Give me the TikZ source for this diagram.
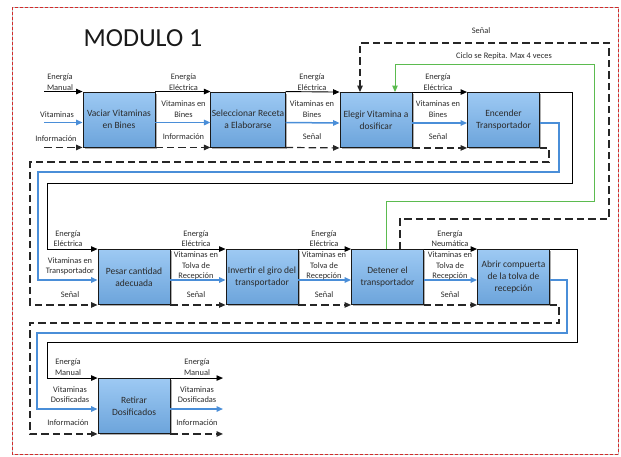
\documentclass[tikz,border=0pt]{standalone}
\usepackage{fontspec}
\setmainfont{Carlito}
\usetikzlibrary{arrows.meta,shadows,calc}
\definecolor{boxtop}{HTML}{9DC9F3}
\definecolor{boxbot}{HTML}{6CA4DB}
\definecolor{vitblue}{HTML}{4A8ED8}
\definecolor{loopgreen}{HTML}{5BBB4F}
\definecolor{txt}{HTML}{2B2B2B}
\definecolor{frame}{HTML}{D42A2A}
\begin{document}
\begin{tikzpicture}[x=1pt,y=-1pt,
  proc/.style={draw=black!90, line width=0.9pt, top color=boxtop, bottom color=boxbot,
    minimum width=72pt, minimum height=55pt, inner sep=1pt,
    align=center, text=txt, font=\fontsize{9.5}{11.8}\selectfont,
    drop shadow={shadow xshift=1.6pt, shadow yshift=-1.6pt, fill=black!45, opacity=0.7}},
  lbl/.style={inner sep=0pt, align=center, text=txt, font=\fontsize{8.4}{10.5}\selectfont},
  ene/.style={draw=black, line width=0.9pt, -{Triangle[length=6.5pt,width=5.5pt]}},
  vit/.style={draw=vitblue, line width=1.5pt, -{Triangle[length=6.5pt,width=5.5pt]}},
  sig/.style={draw=black!85, line width=1.2pt, dash pattern=on 7.5pt off 4pt, -{Triangle[length=6.5pt,width=5.5pt]}},
  cyc/.style={draw=loopgreen, line width=1pt, -{Triangle[length=6.5pt,width=5.5pt]}}
]
\useasboundingbox (0,0) rectangle (621,456);

% outer frame
\draw[black!25, line width=0.8pt] (12,7) rectangle (618,454);
\draw[frame, line width=0.9pt, dash pattern=on 3pt off 2pt] (12,7) rectangle (618,454);

% title
\node[anchor=base, inner sep=0pt, font=\fontsize{26}{30}\selectfont, text=black!90] (title) at (143,46) {MODULO 1};

% process boxes
\node[proc] (b1) at (119,119.5) {Vaciar Vitaminas\\en Bines};
\node[proc] (b2) at (248,119.5) {Seleccionar Receta\\a Elaborarse};
\node[proc] (b3) at (376,120) {Elegir Vitamina a\\dosificar};
\node[proc] (b4) at (503.5,120) {Encender\\Transportador};
\node[proc] (b5) at (134,277) {Pesar cantidad\\adecuada};
\node[proc] (b6) at (262,277) {Invertir el giro del\\transportador};
\node[proc] (b7) at (387.5,277) {Detener el\\transportador};
\node[proc] (b8) at (513.5,277) {Abrir compuerta\\de la tolva de\\recepción};
\node[proc] (b9) at (134,406) {Retirar\\Dosificados};

% material ports, a little below the middle of each box side
\foreach \b in {b1,b2,b3,b4,b5,b6,b7,b8,b9}{
  \coordinate (\b w) at ($(\b.west)+(0,3)$);
  \coordinate (\b e) at ($(\b.east)+(0,3)$);
}

% row 1 inputs
\coordinate (i1) at (44,0);
\draw[ene] (i1 |- b1.north west) -- (b1.north west);
\draw[vit] (i1 |- b1w) -- (b1w);
\draw[sig] (i1 |- b1.south west) -- (b1.south west);

% row 1 links
\draw[ene] (b1.north east) -- (b2.north west);
\draw[vit] (b1e) -- (b2w);
\draw[sig] (b1.south east) -- (b2.south west);
\draw[ene] (b2.north east) -- (b3.north west);
\draw[vit] (b2e) -- (b3w);
\draw[sig] (b2.south east) -- (b3.south west);
\draw[ene] (b3.north east) -- (b4.north west);
\draw[vit] (b3e) -- (b4w);
\draw[sig] (b3.south east) -- (b4.south west);

% row 1 to row 2
\coordinate (k1) at (572,183);
\coordinate (k2) at (47,183);
\coordinate (c1) at (559,172);
\coordinate (c2) at (38,172);
\coordinate (d1) at (549,162);
\coordinate (d2) at (30,162);
\draw[ene] (b4.north east) -| (k1) -- (k2) |- (b5.north west);
\draw[vit] (b4e) -| (c1) -- (c2) |- (b5w);
\draw[sig] (b4.south east) -| (d1) -- (d2) |- (b5.south west);

% row 2 links
\draw[ene] (b5.north east) -- (b6.north west);
\draw[vit] (b5e) -- (b6w);
\draw[sig] (b5.south east) -- (b6.south west);
\draw[ene] (b6.north east) -- (b7.north west);
\draw[vit] (b6e) -- (b7w);
\draw[sig] (b6.south east) -- (b7.south west);
\draw[ene] (b7.north east) -- (b8.north west);
\draw[vit] (b7e) -- (b8w);
\draw[sig] (b7.south east) -- (b8.south west);

% row 2 to row 3
\coordinate (k3) at (577,342);
\coordinate (k4) at (47,342);
\coordinate (c3) at (567,333);
\coordinate (c4) at (37,333);
\coordinate (d3) at (559,323);
\coordinate (d4) at (30,323);
\draw[ene] (b8.north east) -| (k3) -- (k4) |- (b9.north west);
\draw[vit] (b8e) -| (c3) -- (c4) |- (b9w);
\draw[sig] (b8.south east) -| (d3) -- (d4) |- (b9.south west);

% row 3 outputs
\coordinate (o9) at (223,0);
\draw[ene] (b9.north east) -- (o9 |- b9.north east);
\draw[vit] (b9e) -- (o9 |- b9e);
\draw[sig] (b9.south east) -- (o9 |- b9.south east);

% feedback loops back to the vitamin selection
\coordinate (f1) at (400,219);
\coordinate (f2) at (609,219);
\coordinate (f3) at (609,43);
\coordinate (f4) at (360,43);
\draw[sig] (f1 |- b7.north) -- (f1) -- (f2) -- (f3) -- (f4) -- (f4 |- b3.north);
\coordinate (g1) at (386,201);
\coordinate (g2) at (594,201);
\coordinate (g3) at (594,64);
\coordinate (g4) at (395,64);
\draw[cyc] (g1 |- b7.north) -- (g1) -- (g2) -- (g3) -- (g4) -- (g4 |- b3.north);
\node[lbl] (tsen) at (481,31) {Señal};
\node[lbl] (tcyc) at (504,56) {Ciclo se Repita. Max 4 veces};

% row 1 labels
\node[lbl] (a1) at (60,82) {Energía\\Manual};
\node[lbl] (a2) at (57,115) {Vitaminas};
\node[lbl] (a3) at (56,139) {Información};
\node[lbl] (a4) at (183.5,82) {Energía\\Eléctrica};
\node[lbl] (a5) at (183.5,109) {Vitaminas en\\Bines};
\node[lbl] (a6) at (183.5,137) {Información};
\node[lbl] (a7) at (312,82) {Energía\\Eléctrica};
\node[lbl] (a8) at (312,109) {Vitaminas en\\Bines};
\node[lbl] (a9) at (312,137) {Señal};
\node[lbl] (a10) at (438,82) {Energía\\Eléctrica};
\node[lbl] (a11) at (438,109) {Vitaminas en\\Bines};
\node[lbl] (a12) at (438,137) {Señal};

% row 2 labels
\node[lbl] (r1) at (68,238.5) {Energía\\Eléctrica};
\node[lbl] (r2) at (70,266.5) {Vitaminas en\\Transportador};
\node[lbl] (r3) at (70,295) {Señal};
\node[lbl] (r4) at (196,238.5) {Energía\\Eléctrica};
\node[lbl] (r5) at (196,266) {Vitaminas en\\Tolva de\\Recepción};
\node[lbl] (r6) at (196,295) {Señal};
\node[lbl] (r7) at (324,238.5) {Energía\\Eléctrica};
\node[lbl] (r8) at (324,266) {Vitaminas en\\Tolva de\\Recepción};
\node[lbl] (r9) at (324,295) {Señal};
\node[lbl] (r10) at (450,238.5) {Energía\\Neumática};
\node[lbl] (r11) at (450,266) {Vitaminas en\\Tolva de\\Recepción};
\node[lbl] (r12) at (450,295) {Señal};

% row 3 labels
\node[lbl] (s1) at (68,367) {Energía\\Manual};
\node[lbl] (s2) at (70,394.5) {Vitaminas\\Dosificadas};
\node[lbl] (s3) at (68,423) {Información};
\node[lbl] (s4) at (197,367) {Energía\\Manual};
\node[lbl] (s5) at (197,394.5) {Vitaminas\\Dosificadas};
\node[lbl] (s6) at (197,423) {Información};
\end{tikzpicture}
\end{document}
